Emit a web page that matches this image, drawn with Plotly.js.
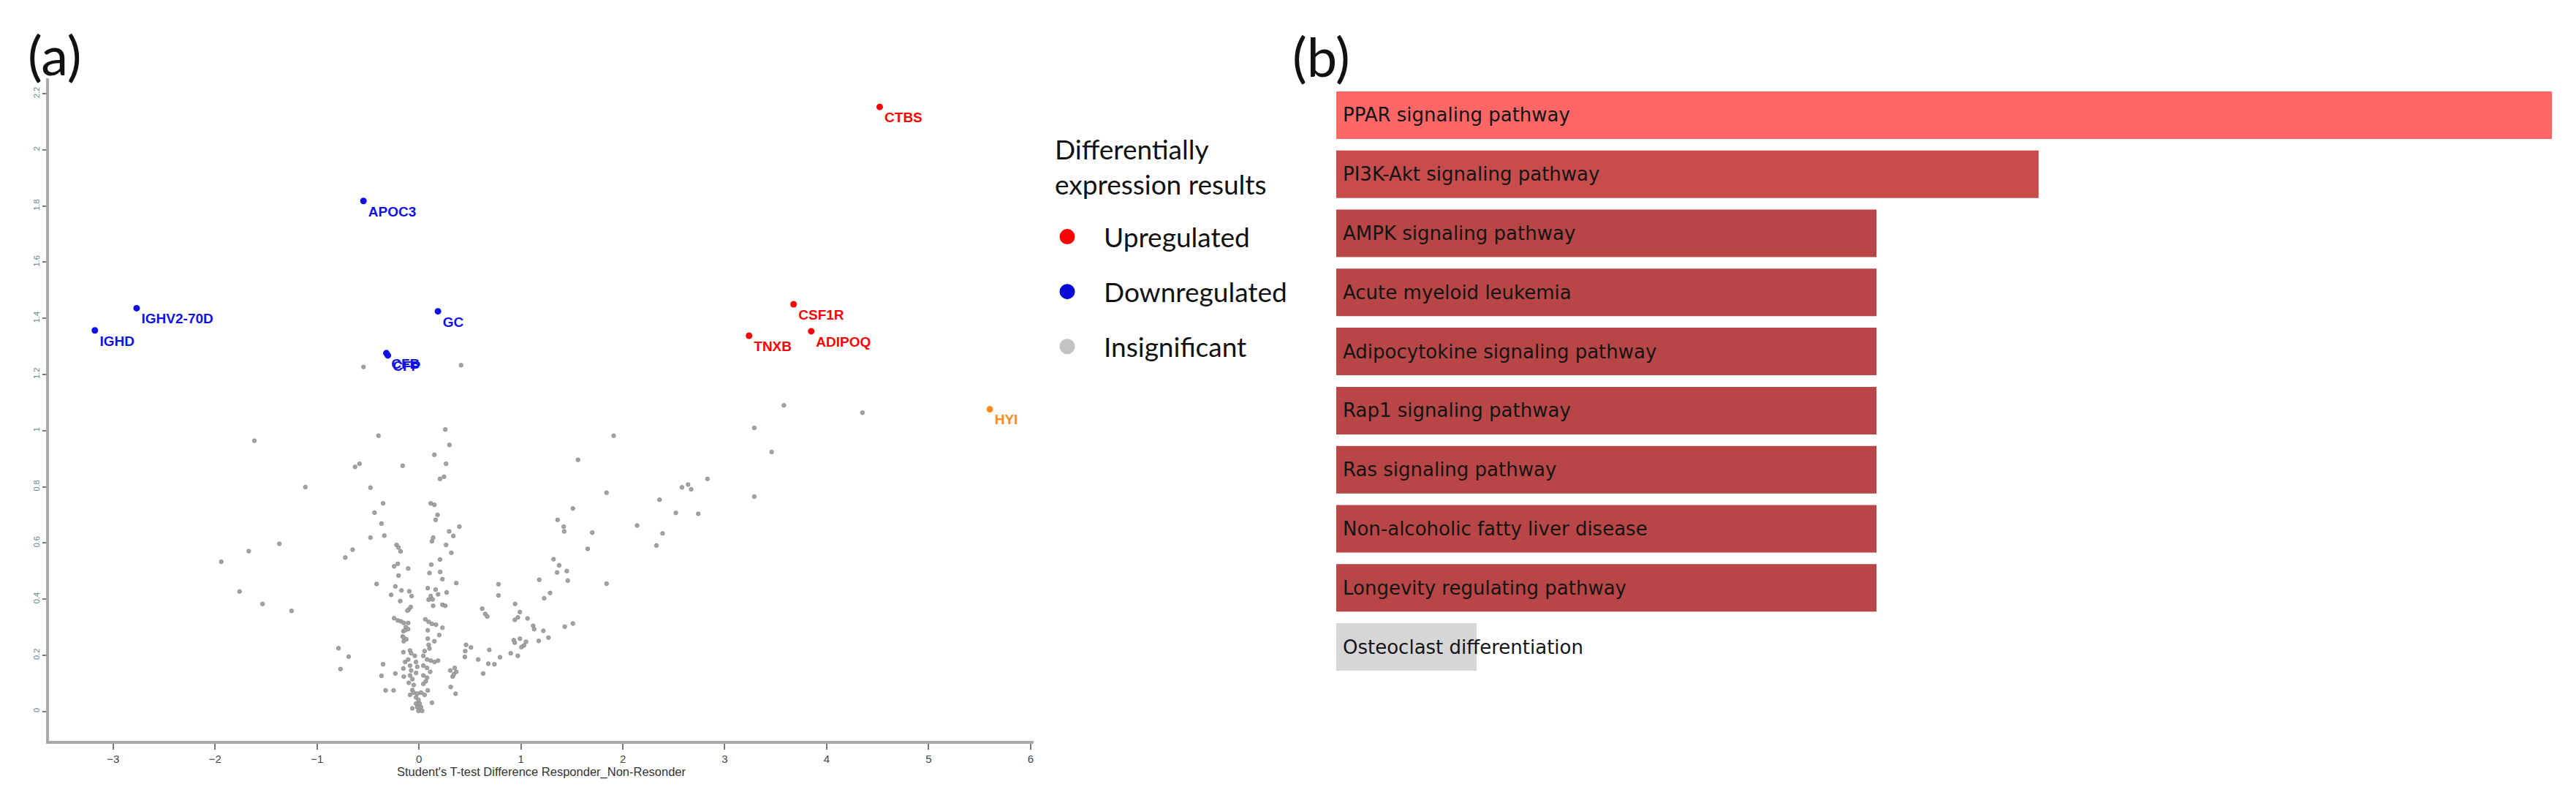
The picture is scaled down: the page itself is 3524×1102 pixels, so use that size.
<!DOCTYPE html>
<html>
<head>
<meta charset="utf-8">
<script src="https://cdn.plot.ly/plotly-3.0.1.min.js"></script>
<style>html,body{margin:0;padding:0;background:#fff;}#chart{width:3524px;height:1102px;}</style>
</head>
<body>
<div id="chart"></div>
<script>
// ---------- (a) volcano plot data ----------
var insignificantX = [
-0.201,0.103,0.208,0.230,-0.416,0.366,-0.232,-0.172,-0.095,-0.273,-0.072,0.086,0.163,0.187,0.271,0.115,0.095,0.134,-0.184,0.139,
0.230,0.258,-0.081,-0.100,-0.113,-0.244,-0.208,-0.177,-0.149,-0.106,-0.129,-0.106,-0.153,-0.136,-0.160,-0.149,-0.124,-0.149,0.062,0.095,
0.127,0.167,0.230,0.086,0.199,0.086,0.151,0.095,0.103,0.055,0.043,-0.153,-0.088,-0.077,-0.041,-0.106,-0.136,-0.029,-0.352,-0.368,
-0.232,-0.153,-0.149,0.079,0.115,0.151,0.187,0.043,0.079,0.110,-0.088,-0.077,-0.088,-0.065,-0.100,-0.052,-0.065,0.043,0.079,0.067,
0.043,-0.029,-0.017,0.307,0.350,0.366,0.330,0.342,0.311,0.359,0.462,0.510,0.454,0.450,0.581,-0.328,-0.249,0.086,-0.088,-0.052,
-0.017,0.019,0.055,-0.029,-0.005,0.007,-0.029,0.019,-0.017,-0.005,0.031,0.127,-0.065,
0.258,-0.397,0.299,0.151,0.266,-0.627,-0.584,-0.160,0.206,0.246,-0.476,-0.352,0.115,0.151,-0.436,0.182,0.163,-0.368,0.397,0.296,
0.337,-0.476,-0.340,0.139,0.127,0.266,0.318,-0.220,-0.201,-0.180,-0.651,-0.723,0.206,-0.244,-0.208,-0.106,0.120,-1.115,
-1.615,1.56,1.91,1.51,1.36,1.42,1.425,-1.37,-1.67,-1.94,1.32,1.375,1.355,1.45,1.46,1.18,0.78,0.78,1.286,1.228,
0.943,-1.535,-1.76,-1.25,0.62,0.65,0.67,0.99,0.97,0.94,1.065,1.12,1.13,1.22,1.43,1.51,1.175,1.27,0.93,0.99,
0.94,1.05,1.03,1.005,-0.79,-0.69,-0.77,0.69,0.68,0.74,0.795,0.63,0.90,0.97,
3.58,4.35,3.29,3.46,2.83,2.58,2.64,2.67,3.29,1.84,2.36,2.52,2.74,2.14,1.70,2.39,1.655,2.33,1.84,
-0.545,0.413
];
var insignificantY = [
0.484,0.493,0.497,0.471,0.454,0.457,0.445,0.431,0.428,0.415,0.411,0.439,0.434,0.417,0.424,0.411,0.398,0.399,0.393,0.376,
0.380,0.376,0.372,0.363,0.359,0.332,0.324,0.321,0.315,0.315,0.300,0.293,0.286,0.289,0.267,0.263,0.257,0.250,0.328,0.319,
0.312,0.309,0.298,0.289,0.272,0.259,0.250,0.237,0.224,0.215,0.198,0.211,0.217,0.207,0.198,0.185,0.176,0.176,0.168,0.127,
0.135,0.153,0.124,0.185,0.181,0.176,0.181,0.163,0.155,0.141,0.163,0.146,0.128,0.115,0.102,0.094,0.076,0.128,0.120,0.107,
0.098,0.137,0.159,0.146,0.155,0.141,0.124,0.133,0.087,0.063,0.237,0.228,0.215,0.194,0.185,0.075,0.075,0.075,0.059,0.067,
0.063,0.067,0.059,0.050,0.041,0.028,0.028,0.015,0.015,0.002,0.002,0.031,0.011,
1.004,0.982,0.949,0.914,0.882,0.871,0.882,0.875,0.828,0.836,0.797,0.741,0.741,0.736,0.708,0.700,0.682,0.669,0.658,0.641,
0.625,0.619,0.626,0.619,0.606,0.593,0.565,0.593,0.584,0.570,0.576,0.548,0.541,0.517,0.526,0.509,0.523,0.799,
0.964,0.896,0.982,0.723,0.682,0.658,0.641,0.597,0.571,0.533,0.542,0.520,0.495,0.500,0.466,0.469,0.453,0.413,0.422,0.403,
0.383,0.383,0.427,0.358,0.366,0.347,0.338,0.354,0.335,0.326,0.331,0.305,0.293,0.287,0.302,0.313,0.251,0.263,0.254,0.259,
0.245,0.248,0.235,0.229,0.225,0.195,0.151,0.219,0.170,0.168,0.193,0.135,0.207,0.198,
1.090,1.064,1.010,0.924,0.828,0.798,0.808,0.791,0.765,0.779,0.754,0.707,0.704,0.662,0.637,0.634,0.579,0.591,0.455,
1.227,1.233
];
var upGenes = ["CTBS","CSF1R","TNXB","ADIPOQ"];
var upX = [4.52, 3.675, 3.238, 3.848];
var upY = [2.153, 1.450, 1.338, 1.354];
var downGenes = ["APOC3","IGHV2-70D","IGHD","GC","CFB","CFP"];
var downX = [-0.545, -2.77, -3.18, 0.186, -0.32, -0.305];
var downY = [1.818, 1.436, 1.357, 1.425, 1.276, 1.268];
var highlightGenes = ["HYI"];
var highlightX = [5.60];
var highlightY = [1.076];
var xTicks = [-3,-2,-1,0,1,2,3,4,5,6];
var yTicks = [0,0.2,0.4,0.6,0.8,1,1.2,1.4,1.6,1.8,2,2.2];
var legendTitle = "Differentially<br>expression results";
var legendNames = ["Upregulated","Downregulated","Insignificant"];

// ---------- (b) enrichment bar data ----------
var pathways = ["PPAR signaling pathway","PI3K-Akt signaling pathway","AMPK signaling pathway",
  "Acute myeloid leukemia","Adipocytokine signaling pathway","Rap1 signaling pathway",
  "Ras signaling pathway","Non-alcoholic fatty liver disease","Longevity regulating pathway",
  "Osteoclast differentiation"];
var pathwayScores = [9.0, 5.2, 4.0, 4.0, 4.0, 4.0, 4.0, 4.0, 4.0, 1.04];

// ---------- styles ----------
var COL_UP = "#ff0000", COL_DOWN = "#1010e6", COL_HI = "#ff8c1a";
var barColors = pathways.map(function(p, i){
  if (i === 0) return "#ff6666";
  if (i === 1) return "#c84c4c";
  if (i === pathways.length - 1) return "#d6d6d6";
  return "#b94646";
});
var labelFont = {family: "Liberation Sans, Arial, sans-serif", size: 19, weight: "bold"};

var traces = [];
traces.push({
  type: "scatter", mode: "markers", x: insignificantX, y: insignificantY,
  xaxis: "x", yaxis: "y", showlegend: false, hoverinfo: "x+y",
  marker: {size: 5.5, color: "#a3a3a3", line: {width: 0.8, color: "#8a8a8a"}}
});
traces.push({
  type: "scatter", mode: "markers+text", x: downX, y: downY, text: downGenes,
  textposition: "bottom right", xaxis: "x", yaxis: "y", showlegend: false,
  marker: {size: 9, color: COL_DOWN},
  textfont: Object.assign({color: COL_DOWN}, labelFont)
});
traces.push({
  type: "scatter", mode: "markers+text", x: upX, y: upY, text: upGenes,
  textposition: "bottom right", xaxis: "x", yaxis: "y", showlegend: false,
  marker: {size: 9, color: COL_UP},
  textfont: Object.assign({color: COL_UP}, labelFont)
});
traces.push({
  type: "scatter", mode: "markers+text", x: highlightX, y: highlightY, text: highlightGenes,
  textposition: "bottom right", xaxis: "x", yaxis: "y", showlegend: false,
  marker: {size: 9, color: COL_HI},
  textfont: Object.assign({color: COL_HI}, labelFont)
});
// legend entries
var legendCols = [COL_UP, "#0a0ad8", "#c2c2c2"];
legendNames.forEach(function(n, i){
  traces.push({
    type: "scatter", mode: "markers", x: [null], y: [null], name: n,
    legendgroup: "g" + i, xaxis: "x", yaxis: "y", showlegend: true,
    marker: {size: 16, color: legendCols[i], line: {width: 5, color: legendCols[i]}}
  });
});
// bar chart
traces.push({
  type: "bar", orientation: "h", x: pathwayScores, y: pathways,
  xaxis: "x2", yaxis: "y2", showlegend: false,
  marker: {color: barColors, line: {width: 0}}, hoverinfo: "x+y"
});

var annotations = pathways.map(function(p){
  return {xref: "x2", yref: "y2", x: 0, y: p, text: p, showarrow: false,
    xanchor: "left", yanchor: "middle", xshift: 7,
    font: {family: "DejaVu Sans, sans-serif", size: 26, color: "#141414"}};
});
annotations.push({xref: "paper", yref: "paper", x: 36/3524, y: 1 - 74/1102, text: "(a)",
  showarrow: false, xanchor: "left", yanchor: "middle",
  font: {family: "Lato, sans-serif", size: 74, color: "#111"}});
annotations.push({xref: "paper", yref: "paper", x: 1766/3524, y: 1 - 77/1102, text: "(b)",
  showarrow: false, xanchor: "left", yanchor: "middle",
  font: {family: "Lato, sans-serif", size: 74, color: "#111"}});
annotations.push({xref: "paper", yref: "paper", x: 1441/3524, y: 1 - 228/1102, text: legendTitle,
  showarrow: false, xanchor: "left", yanchor: "middle", align: "left",
  font: {family: "Lato, sans-serif", size: 37, color: "#111"}});

var layout = {
  width: 3524, height: 1102,
  margin: {l: 0, r: 0, t: 0, b: 0},
  paper_bgcolor: "#ffffff", plot_bgcolor: "#ffffff",
  font: {family: "Lato, sans-serif", color: "#111"},
  showlegend: true,
  bargap: 0.196,
  xaxis: {
    domain: [67/3524, 1414/3524], range: [-3.63, 6.03], anchor: "y",
    showline: true, linecolor: "#a9a9a9", linewidth: 4,
    ticks: "outside", ticklen: 8, tickwidth: 2, tickcolor: "#777",
    tickmode: "array", tickvals: xTicks,
    tickfont: {family: "Liberation Sans, Arial, sans-serif", size: 15, color: "#444"},
    showgrid: false, zeroline: false, fixedrange: true,
    title: {text: "Student's T-test Difference Responder_Non-Resonder", standoff: 4,
      font: {family: "Liberation Sans, Arial, sans-serif", size: 16.5, color: "#333"}}
  },
  yaxis: {
    domain: [1 - 1013/1102, 1 - 107/1102], range: [-0.105, 2.255], anchor: "x",
    showline: true, linecolor: "#a9a9a9", linewidth: 4,
    ticks: "outside", ticklen: 5, tickwidth: 2, tickcolor: "#777",
    tickmode: "array", tickvals: yTicks, tickangle: -90,
    tickfont: {family: "Liberation Sans, Arial, sans-serif", size: 11, color: "#5b8795"},
    showgrid: false, zeroline: false, fixedrange: true
  },
  xaxis2: {
    domain: [1828/3524, 3491/3524], range: [0, 9], anchor: "y2",
    visible: false, fixedrange: true
  },
  yaxis2: {
    domain: [1 - 925/1102, 1 - 117/1102], type: "category", autorange: "reversed",
    anchor: "x2", visible: false, fixedrange: true
  },
  legend: {
    x: 1410/3524, y: 1 - 293/1102, xanchor: "left", yanchor: "top",
    bgcolor: "rgba(0,0,0,0)", borderwidth: 0,
    font: {family: "Lato, sans-serif", size: 37, color: "#111"},
    traceorder: "grouped", tracegroupgap: 24, itemwidth: 90, itemclick: false
  },
  annotations: annotations
};

Plotly.newPlot("chart", traces, layout, {displayModeBar: false, staticPlot: true});
</script>
</body>
</html>
